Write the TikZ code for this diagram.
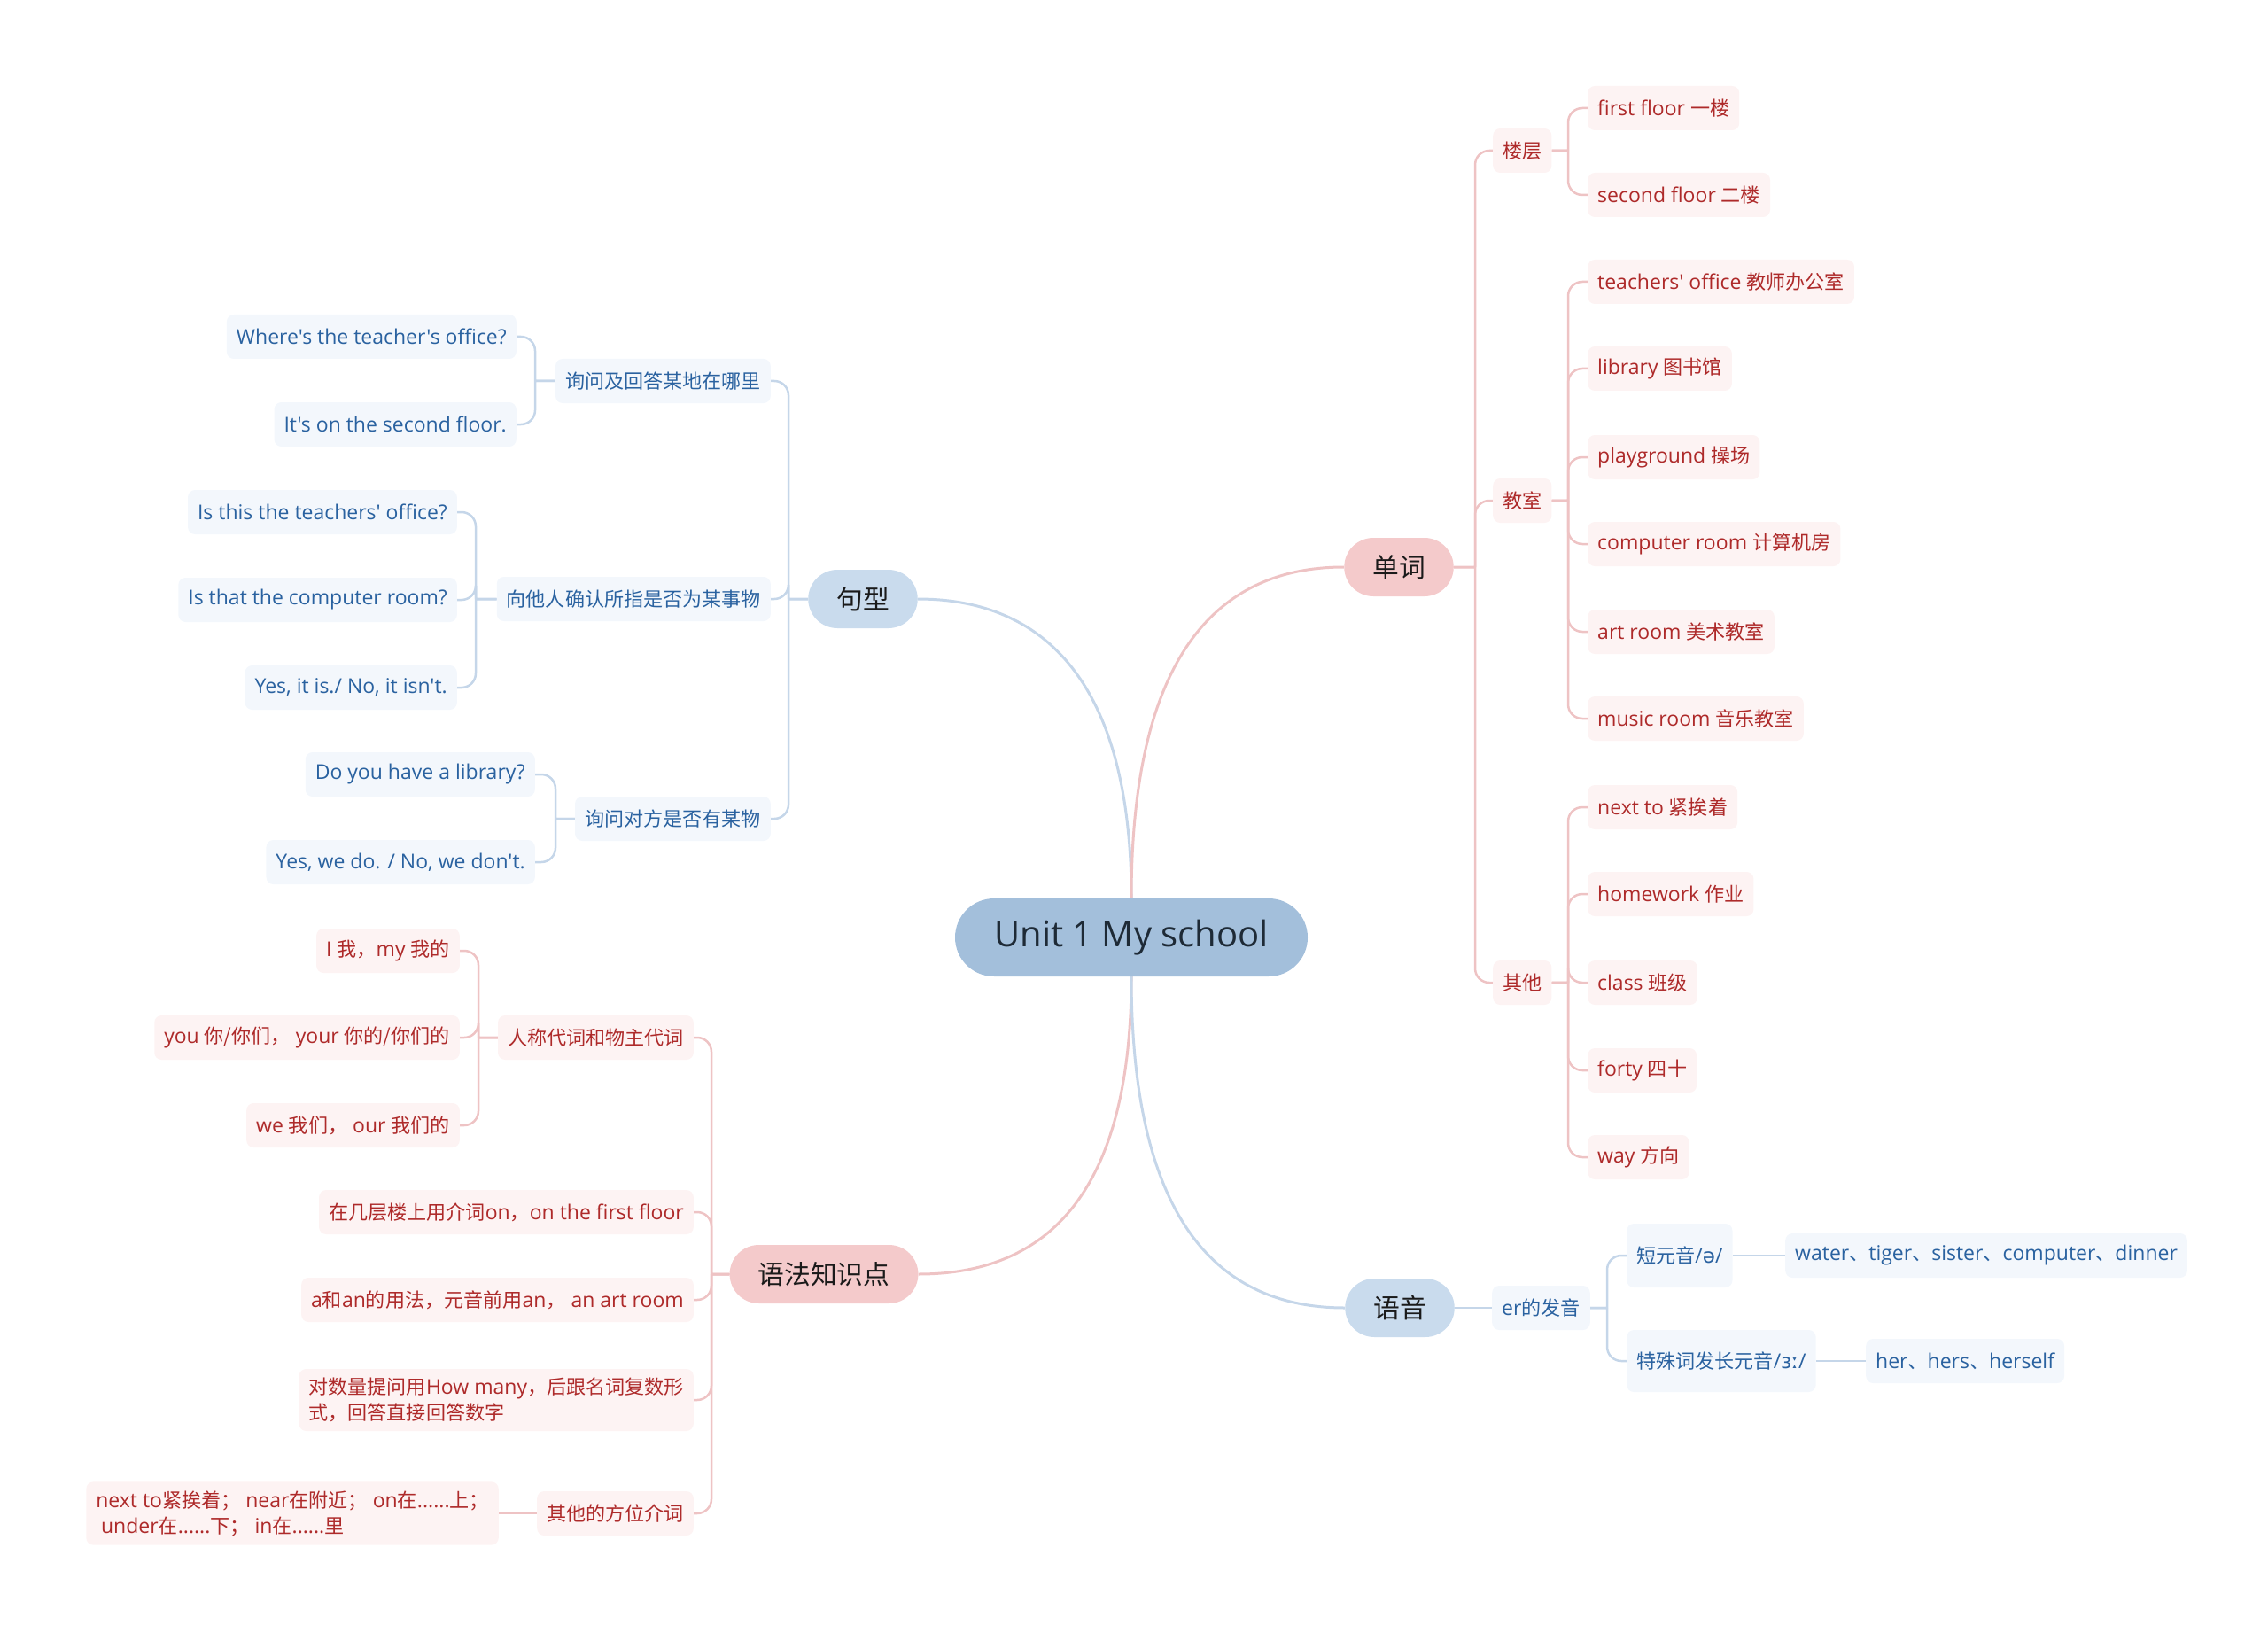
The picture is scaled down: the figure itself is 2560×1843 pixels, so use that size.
\documentclass[tikz,border=0pt]{standalone}
\usepackage{fontspec}
\newfontfamily\enfont{Open Sans}
\newfontfamily\cjk{Noto Sans CJK SC}[Scale=0.96]
\newfontfamily\ipa{DejaVu Sans}
\newcommand\zh[1]{{\cjk #1}}
\usetikzlibrary{backgrounds}
\definecolor{rootfill}{HTML}{A3BFDB}
\definecolor{roottext}{HTML}{1E2A36}
\definecolor{bluemain}{HTML}{C9DBED}
\definecolor{pinkmain}{HTML}{F4CACB}
\definecolor{maintext}{HTML}{1A1A1A}
\definecolor{leafbfill}{HTML}{F3F7FC}
\definecolor{leafpfill}{HTML}{FDF3F3}
\definecolor{bluetext}{HTML}{2A62A0}
\definecolor{redtext}{HTML}{AE2A2A}
\definecolor{lineblue}{HTML}{C5D6E9}
\definecolor{linepink}{HTML}{EEC3C4}
\begin{document}
\begin{tikzpicture}[x=1pt,y=-1pt,
  root/.style={fill=rootfill, text=roottext, rounded corners=44pt, minimum height=88pt, minimum width=398pt, font=\fontsize{40}{46}\enfont},
  mainb/.style={fill=bluemain, text=maintext, rounded corners=33pt, minimum height=66pt, inner xsep=32pt, font=\fontsize{31}{36}\cjk},
  mainp/.style={mainb, fill=pinkmain},
  leafb/.style={fill=leafbfill, text=bluetext, rounded corners=8pt, minimum height=50pt, inner xsep=11pt, inner ysep=10pt, align=left, font=\fontsize{23}{29}\enfont},
  leafp/.style={leafb, fill=leafpfill, text=redtext},
  mlb/.style={draw=lineblue, line width=3pt},
  mlp/.style={draw=linepink, line width=3pt},
  blb/.style={draw=lineblue, line width=2.5pt, rounded corners=16pt},
  blp/.style={draw=linepink, line width=2.5pt, rounded corners=16pt}]
\useasboundingbox (0,0) rectangle (2560,1843);

% root and main branches
\node[root] (c) at (1277,1058) {Unit 1 My school};
\node[mainb] (jx) at (974,676) {句型};
\node[mainp] (dc) at (1579,640) {单词};
\node[mainp] (yf) at (930,1438) {语法知识点};
\node[mainb] (yy) at (1580,1476) {语音};

% ---- 单词 ----
\node[leafp, anchor=west] (lc) at (1685,170) {\zh{楼层}};
\node[leafp, anchor=west] (f1) at (1792,122) {first floor \zh{一楼}};
\node[leafp, anchor=west] (f2) at (1792,220) {second floor \zh{二楼}};
\node[leafp, anchor=west] (js) at (1685,565) {\zh{教室}};
\node[leafp, anchor=west] (r1) at (1792,318) {teachers' office \zh{教师办公室}};
\node[leafp, anchor=west] (r2) at (1792,416) {library \zh{图书馆}};
\node[leafp, anchor=west] (r3) at (1792,516) {playground \zh{操场}};
\node[leafp, anchor=west] (r4) at (1792,614) {computer room \zh{计算机房}};
\node[leafp, anchor=west] (r5) at (1792,713) {art room \zh{美术教室}};
\node[leafp, anchor=west] (r6) at (1792,811) {music room \zh{音乐教室}};
\node[leafp, anchor=west] (qo) at (1685,1109) {\zh{其他}};
\node[leafp, anchor=west] (o1) at (1792,911) {next to \zh{紧挨着}};
\node[leafp, anchor=west] (o2) at (1792,1009) {homework \zh{作业}};
\node[leafp, anchor=west] (o3) at (1792,1109) {class \zh{班级}};
\node[leafp, anchor=west] (o4) at (1792,1208) {forty \zh{四十}};
\node[leafp, anchor=west] (o5) at (1792,1306) {way \zh{方向}};

% ---- 语音 ----
\node[leafb, anchor=west] (er) at (1684,1476) {er\zh{的发音}};
\node[leafb, anchor=west, minimum height=72pt] (dy) at (1836,1417) {\zh{短元音}/{\ipa ə}/};
\node[leafb, anchor=west, minimum height=70pt] (ts) at (1836,1536) {\zh{特殊词发长元音}/{\ipa ɜː}/};
\node[leafb, anchor=west] (wt) at (2015,1417) {water\zh{、}tiger\zh{、}sister\zh{、}computer\zh{、}dinner};
\node[leafb, anchor=west] (hr) at (2106,1536) {her\zh{、}hers\zh{、}herself};

% ---- 句型 ----
\node[leafb, anchor=east] (wd) at (870,430) {\zh{询问及回答某地在哪里}};
\node[leafb, anchor=east] (w1) at (583,380) {Where's the teacher's office?};
\node[leafb, anchor=east] (w2) at (583,479) {It's on the second floor.};
\node[leafb, anchor=east] (qr) at (870,676) {\zh{向他人确认所指是否为某事物}};
\node[leafb, anchor=east] (q1) at (516,578) {Is this the teachers' office?};
\node[leafb, anchor=east] (q2) at (516,677) {Is that the computer room?};
\node[leafb, anchor=east] (q3) at (516,776) {Yes, it is./ No, it isn't.};
\node[leafb, anchor=east] (yw) at (870,924) {\zh{询问对方是否有某物}};
\node[leafb, anchor=east] (y1) at (604,874) {Do you have a library?};
\node[leafb, anchor=east] (y2) at (604,973) {Yes, we do. / No, we don't.};

% ---- 语法知识点 ----
\node[leafp, anchor=east] (rc) at (783,1171) {\zh{人称代词和物主代词}};
\node[leafp, anchor=east] (p1) at (519,1073) {I \zh{我，}my \zh{我的}};
\node[leafp, anchor=east] (p2) at (519,1171) {you \zh{你/你们，} your \zh{你的/你们的}};
\node[leafp, anchor=east] (p3) at (519,1270) {we \zh{我们，} our \zh{我们的}};
\node[leafp, anchor=east] (zj) at (783,1368) {\zh{在几层楼上用介词}on\zh{，}on the first floor};
\node[leafp, anchor=east] (aa) at (783,1467) {a\zh{和}an\zh{的用法，元音前用}an\zh{，} an art room};
\node[leafp, anchor=east] (ds) at (783,1580) {\zh{对数量提问用}How many\zh{，后跟名词复数形}\\\zh{式，回答直接回答数字}};
\node[leafp, anchor=east] (qt) at (783,1708) {\zh{其他的方位介词}};
\node[leafp, anchor=east] (ql) at (563,1708) {next to\zh{紧挨着；} near\zh{在附近；} on\zh{在}......\zh{上；}\\\hspace*{0.25em}under\zh{在}......\zh{下；} in\zh{在}......\zh{里}};

\begin{scope}[on background layer]
% main curves
\draw[mlb] (c.north) .. controls (1277,785) and (1190,676) .. (jx.east);
\draw[mlp] (c.north) .. controls (1277,760) and (1360,640) .. (dc.west);
\draw[mlp] (c.south) .. controls (1277,1330) and (1195,1438) .. (yf.east);
\draw[mlb] (c.south) .. controls (1277,1356) and (1360,1476) .. (yy.west);
% 单词
\foreach \n in {lc,js,qo} \draw[blp] (dc.east) -- (1665,640) (1665,640) |- (\n.west);
\foreach \n in {f1,f2} \draw[blp] (lc.east) -- (1770,170) (1770,170) |- (\n.west);
\foreach \n in {r1,r2,r3,r4,r5,r6} \draw[blp] (js.east) -- (1770,565) (1770,565) |- (\n.west);
\foreach \n in {o1,o2,o3,o4,o5} \draw[blp] (qo.east) -- (1770,1109) (1770,1109) |- (\n.west);
% 语音
\draw[blb] (yy.east) -- (er.west);
\foreach \n in {dy,ts} \draw[blb] (er.east) -- (1814,1476) (1814,1476) |- (\n.west);
\draw[blb] (dy.east) -- (wt.west);
\draw[blb] (ts.east) -- (hr.west);
% 句型
\foreach \n in {wd,qr,yw} \draw[blb] (jx.west) -- (890,676) (890,676) |- (\n.east);
\foreach \n in {w1,w2} \draw[blb] (wd.west) -- (604,430) (604,430) |- (\n.east);
\foreach \n in {q1,q2,q3} \draw[blb] (qr.west) -- (537,676) (537,676) |- (\n.east);
\foreach \n in {y1,y2} \draw[blb] (yw.west) -- (627,924) (627,924) |- (\n.east);
% 语法知识点
\foreach \n in {rc,zj,aa,ds,qt} \draw[blp] (yf.west) -- (803,1438) (803,1438) |- (\n.east);
\foreach \n in {p1,p2,p3} \draw[blp] (rc.west) -- (540,1171) (540,1171) |- (\n.east);
\draw[blp] (qt.west) -- (ql.east);
\end{scope}
\end{tikzpicture}
\end{document}
